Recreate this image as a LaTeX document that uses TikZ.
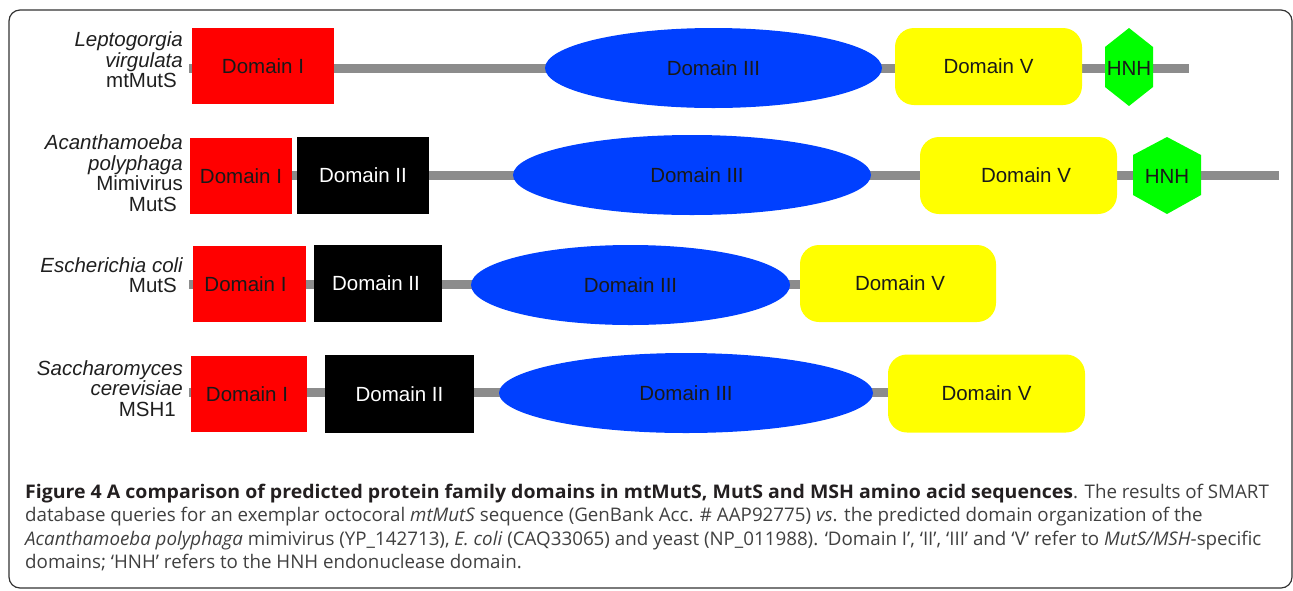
\documentclass[tikz,border=0pt]{standalone}
\usepackage{fontspec}
\setmainfont{Liberation Sans}
\newfontfamily\capfont{Open Sans}
\usetikzlibrary{shapes.geometric}
\definecolor{domred}{HTML}{FF0000}
\definecolor{domblue}{HTML}{0040FF}
\definecolor{domyellow}{HTML}{FFFF00}
\definecolor{domgreen}{HTML}{00FF00}
\definecolor{bargray}{HTML}{8C8C8C}
\definecolor{frameg}{HTML}{333333}
\definecolor{captxt}{HTML}{404040}
\definecolor{capbold}{HTML}{231F20}
\begin{document}
\begin{tikzpicture}[x=1pt,y=-1pt,
  dom/.style={inner sep=0pt, font=\fontsize{20.5}{24}\selectfont, text=black!90},
  dI/.style={dom, rectangle, fill=domred},
  dII/.style={dom, rectangle, fill=black, text=white},
  dIII/.style={dom, ellipse, fill=domblue},
  dV/.style={dom, rectangle, rounded corners=19pt, fill=domyellow},
  hnhtext/.style={dom},
  hexfill/.style={fill=domgreen},
  bar/.style={draw=bargray, line width=9pt},
  species/.style={inner sep=0pt, align=right, anchor=east, text=black!88,
    font=\fontsize{20.5}{20.6}\selectfont},
  capline/.style={inner sep=0pt, anchor=base west, text=captxt,
    font=\capfont\fontsize{18.75}{22}\selectfont},
  frame/.style={draw=frameg, line width=1.2pt, rounded corners=11pt}]
\useasboundingbox (0,0) rectangle (1293,590);
\draw[frame] (9,10) rectangle (1292,588);

% ---------- row 1 ----------
\node[species] (lab1) at (183,60) {\itshape Leptogorgia\\\itshape virgulata\\mtMutS\hspace*{6pt}};
\coordinate (s1) at (189,68.3);
\coordinate (e1) at (1189,68.3);
\draw[bar] (s1) -- (e1);
\node[dI, minimum width=142, minimum height=76] (r1a) at (263,66) {Domain I};
\node[dIII, minimum width=337, minimum height=80] (r1c) at (713.5,68) {Domain III};
\node[dV, minimum width=187, minimum height=77] (r1e) at (988.5,66.5) {Domain V};
\fill[hexfill] (1129,28) -- (1153,47) -- (1153,87) -- (1129,106) -- (1105,87) -- (1105,47) -- cycle;
\node[hnhtext] (r1h) at (1129,68) {HNH};

% ---------- row 2 ----------
\node[species] (lab2) at (183,173) {\itshape Acanthamoeba\\\itshape polyphaga\\Mimivirus\\MutS\hspace*{6pt}};
\coordinate (s2) at (190,175.5);
\coordinate (e2) at (1279,175.5);
\draw[bar] (s2) -- (e2);
\node[dI, minimum width=102, minimum height=76] (r2a) at (241,176) {Domain I};
\node[dII, minimum width=132, minimum height=77] (r2b) at (363,175.5) {Domain II};
\node[dIII, minimum width=358, minimum height=80] (r2c) at (692,175) {\hspace*{10pt}Domain III};
\node[dV, minimum width=197, minimum height=77] (r2e) at (1018.5,175.5) {\hspace*{15pt}Domain V};
\fill[hexfill] (1167,137) -- (1201,155) -- (1201,195) -- (1167,214) -- (1133,195) -- (1133,155) -- cycle;
\node[hnhtext] (r2h) at (1167,176) {HNH};

% ---------- row 3 ----------
\node[species] (lab3) at (183,275) {\itshape Escherichia coli\\MutS\hspace*{6pt}};
\coordinate (s3) at (189,284.5);
\coordinate (e3) at (802,284.5);
\draw[bar] (s3) -- (e3);
\node[dI, minimum width=113, minimum height=76] (r3a) at (249.5,284) {Domain I\hspace*{8pt}};
\node[dII, minimum width=128, minimum height=77] (r3b) at (378,283.5) {Domain II\hspace*{4pt}};
\node[dIII, minimum width=319, minimum height=80] (r3c) at (630.5,285) {Domain III};
\node[dV, minimum width=196, minimum height=77] (r3e) at (898,283.5) {\hspace*{4pt}Domain V};

% ---------- row 4 ----------
\node[species] (lab4) at (183,388.5) {\itshape Saccharomyces\\\itshape cerevisiae\\MSH1\hspace*{7pt}};
\coordinate (s4) at (189,392.7);
\coordinate (e4) at (890,392.7);
\draw[bar] (s4) -- (e4);
\node[dI, minimum width=116, minimum height=76] (r4a) at (249,394) {Domain I\hspace*{4pt}};
\node[dII, minimum width=149, minimum height=78] (r4b) at (399.5,394) {Domain II};
\node[dIII, minimum width=374, minimum height=80] (r4c) at (686,393) {Domain III};
\node[dV, minimum width=197, minimum height=78] (r4e) at (986.5,393.5) {Domain V};

% ---------- caption ----------
\node[capline] (cap1) at (25,498) {\scalebox{1.04}[1]{\bfseries\color{capbold}Figure 4 A comparison of predicted protein family domains in mtMutS, MutS and MSH amino acid sequences}. The results of SMART};
\node[capline] (cap2) at (25,521.5) {database queries for an exemplar octocoral \textit{mtMutS} sequence (GenBank Acc. \# AAP92775) \textit{vs}. the predicted domain organization of the};
\node[capline] (cap3) at (25,545) {\textit{Acanthamoeba polyphaga} mimivirus (YP\_142713), \textit{E. coli} (CAQ33065) and yeast (NP\_011988). ‘Domain I’, ‘II’, ‘III’ and ‘V’ refer to \textit{MutS/MSH}-specific};
\node[capline] (cap4) at (25,568.5) {domains; ‘HNH’ refers to the HNH endonuclease domain.};
\end{tikzpicture}
\end{document}
